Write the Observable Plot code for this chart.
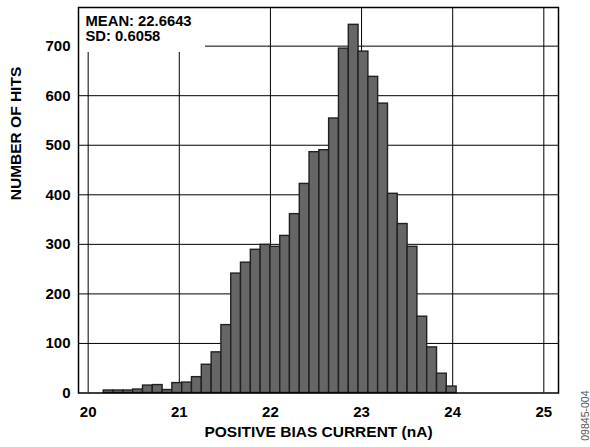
<!DOCTYPE html>
<html>
<head>
<meta charset="utf-8">
<script src="https://cdn.jsdelivr.net/npm/d3@7"></script>
<script src="https://cdn.jsdelivr.net/npm/@observablehq/plot@0.6"></script>
<style>
  html, body { margin: 0; padding: 0; background: #fff; }
  #chart { width: 590px; height: 447px; }
</style>
</head>
<body>
<div id="chart"></div>
<script>
// Bin edges (nA)
const binEdges = [20.171, 20.279, 20.386, 20.494, 20.602, 20.709, 20.817, 20.924, 21.032, 21.139,
  21.247, 21.355, 21.462, 21.570, 21.677, 21.785, 21.892, 22.000, 22.108, 22.214,
  22.322, 22.429, 22.537, 22.644, 22.752, 22.860, 22.967, 23.075, 23.182, 23.290,
  23.397, 23.505, 23.613, 23.720, 23.828, 23.935, 24.043];
// Number of hits in each bin
const hits = [5, 5, 5, 7, 15, 16, 6, 20, 21, 32,
  57, 82, 137, 241, 263, 289, 299, 295, 317, 361,
  422, 486, 490, 554, 695, 743, 689, 638, 584, 402,
  341, 295, 154, 92, 39, 13];
const xTicks = [20, 21, 22, 23, 24, 25];
const yTicks = [0, 100, 200, 300, 400, 500, 600, 700];
const yGrid = [100, 200, 300, 400, 500, 600, 700];
const statLines = ["MEAN: 22.6643", "SD: 0.6058"];
const xTitle = "POSITIVE BIAS CURRENT (nA)";
const yTitle = "NUMBER OF HITS";
const figId = "09845-004";

const bins = hits.map((h, i) => ({x1: binEdges[i], x2: binEdges[i + 1], y: h}));

// white backdrop behind the statistics box (covers gridlines)
function statBox(index, scales, values, dimensions) {
  const r = d3.create("svg:rect")
    .attr("x", dimensions.marginLeft)
    .attr("y", dimensions.marginTop)
    .attr("width", 127)
    .attr("height", 45)
    .attr("fill", "white");
  return r.node();
}

const chart = Plot.plot({
  width: 590,
  height: 447,
  marginLeft: 78,
  marginRight: 32,
  marginTop: 7,
  marginBottom: 54.5,
  style: {fontFamily: "'Liberation Sans', Arial, sans-serif", fontWeight: "bold", fontSize: "15px", color: "black", background: "white"},
  x: {domain: [19.894, 25.161]},
  y: {domain: [0, 778]},
  marks: [
    Plot.gridX(xTicks, {stroke: "black", strokeOpacity: 1, strokeWidth: 1}),
    Plot.gridY(yGrid, {stroke: "black", strokeOpacity: 1, strokeWidth: 1}),
    statBox,
    Plot.rectY(bins, {x1: "x1", x2: "x2", y: "y", fill: "#666666", stroke: "#231f20", strokeWidth: 1.4, inset: 0}),
    Plot.axisX(xTicks, {tickSize: 0, tickPadding: 13, label: null, fontSize: 15, fontWeight: "bold"}),
    Plot.axisY(yTicks, {tickSize: 0, tickPadding: 8, label: null, fontSize: 15, fontWeight: "bold"}),
    Plot.frame({stroke: "black", strokeWidth: 1.5}),
    Plot.text([statLines[0]], {text: d => d, frameAnchor: "top-left", dx: 7, dy: 13.5, lineAnchor: "middle", textAnchor: "start", fontSize: 14.8, fontWeight: "bold"}),
    Plot.text([statLines[1]], {text: d => d, frameAnchor: "top-left", dx: 7, dy: 28.5, lineAnchor: "middle", textAnchor: "start", fontSize: 14.8, fontWeight: "bold"}),
    Plot.text([xTitle], {text: d => d, frameAnchor: "bottom", dy: 43.5, fontSize: 15.5, fontWeight: "bold"}),
    Plot.text([yTitle], {text: d => d, frameAnchor: "left", dx: -62, rotate: -90, fontSize: 15.5, fontWeight: "bold"}),
    Plot.text([figId], {text: d => d, frameAnchor: "bottom-right", dx: 30, dy: -2.5, rotate: -90, textAnchor: "end", fontSize: 10.5, fontWeight: "normal", fill: "#555"})
  ]
});
document.getElementById("chart").appendChild(chart);
</script>
</body>
</html>
